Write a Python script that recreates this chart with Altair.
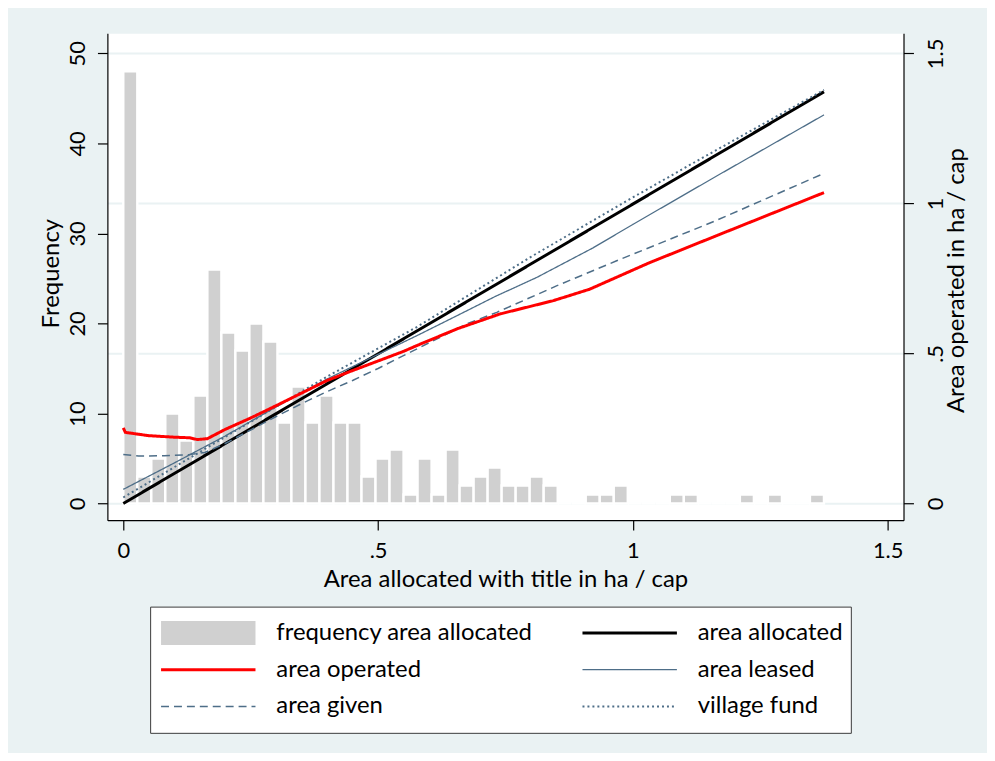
import altair as alt
import pandas as pd

# ---------------- data ----------------
bin_width = 0.0275
counts = [48, 3, 5, 10, 7, 12, 26, 19, 17, 20, 18, 9, 13, 9, 12, 9, 9, 3, 5, 6,
          1, 5, 1, 6, 2, 3, 4, 2, 2, 3, 2, 0, 0, 1, 1, 2, 0, 0, 0, 1,
          1, 0, 0, 0, 1, 0, 1, 0, 0, 1]

# legend order (filled column by column)
series_names = ["frequency area allocated", "area operated", "area given",
                "area allocated", "area leased", "village fund"]

allocated_x = [0.0, 1.375]
allocated_y = [0.0, 1.372]

leased_x = [0.0, 0.1, 0.2, 0.3, 0.4, 0.5, 0.577, 0.655, 0.73, 0.811, 0.922, 1.0,
            1.162, 1.375]
leased_y = [0.047, 0.135, 0.225, 0.322, 0.415, 0.497, 0.56, 0.626, 0.69, 0.753,
            0.852, 0.93, 1.089, 1.295]

given_x = [0.0, 0.03, 0.08, 0.13, 0.16, 0.2, 0.25, 0.3, 0.35, 0.4, 0.45, 0.5, 0.577,
           0.675, 0.733, 0.85, 0.967, 1.162, 1.375]
given_y = [0.163, 0.158, 0.159, 0.163, 0.17, 0.2, 0.245, 0.29, 0.333, 0.373, 0.41,
           0.45, 0.516, 0.599, 0.637, 0.725, 0.808, 0.942, 1.10]

village_x = [0.0, 0.2, 0.4, 0.577, 0.8, 1.0, 1.123, 1.375]
village_y = [0.02, 0.222, 0.423, 0.589, 0.822, 1.02, 1.139, 1.378]

operated_x = [0.0, 0.004, 0.05, 0.1, 0.13, 0.145, 0.165, 0.2, 0.25, 0.3, 0.35, 0.4,
              0.45, 0.5, 0.55, 0.577, 0.655, 0.74, 0.844, 0.915, 1.032, 1.162, 1.375]
operated_y = [0.252, 0.237, 0.226, 0.221, 0.219, 0.213, 0.216, 0.247, 0.285, 0.326,
              0.368, 0.41, 0.443, 0.475, 0.507, 0.527, 0.582, 0.632, 0.676, 0.714,
              0.802, 0.891, 1.036]

x_ticks = [0, 0.5, 1, 1.5]
left_ticks = [0, 10, 20, 30, 40, 50]
right_ticks = [0, 0.5, 1, 1.5]

# ---------------- tables ----------------
bars_df = pd.DataFrame({
    "bin_start": [i * bin_width for i in range(len(counts))],
    "bin_end": [(i + 1) * bin_width for i in range(len(counts))],
    "count": counts,
    "base": [0] * len(counts),
})

rows = []
for name, xs, ys in [("area allocated", allocated_x, allocated_y),
                     ("area leased", leased_x, leased_y),
                     ("area given", given_x, given_y),
                     ("village fund", village_x, village_y),
                     ("area operated", operated_x, operated_y)]:
    for i, (xv, yv) in enumerate(zip(xs, ys)):
        rows.append({"series": name, "x": xv, "y": yv, "idx": i})
lines_df = pd.DataFrame(rows)

# ---------------- styling ----------------
FONT = "Lato"
FS = 24
LFS = 22
BLUEGRAY = "#4e6e88"
series_colors = ["#d0d0d0", "#ff0000", BLUEGRAY, "#000000", BLUEGRAY, BLUEGRAY]
series_dash = [[1, 0], [1, 0], [8, 5], [1, 0], [1, 0], [2, 3]]
series_width = [24, 3, 1.5, 3, 1.3, 2]

label_expr = "datum.value == 0.5 ? '.5' : format(datum.value, '~g')"

x_scale = alt.Scale(domain=[-0.0312, 1.5311], nice=False, zero=False)
x_axis = alt.Axis(values=x_ticks, labelExpr=label_expr, grid=False, tickSize=10,
                  labelPadding=11, title="Area allocated with title in ha / cap",
                  titleX=400.5, titleY=67, titleAlign="center",
                  titleBaseline="alphabetic")

left_axis = alt.Axis(orient="left", values=left_ticks, grid=False, tickSize=10,
                     labelAngle=270, labelAlign="center", labelBaseline="alphabetic",
                     labelPadding=13, title="Frequency", titleAngle=270,
                     titleX=-49, titleY=241.5, titleAlign="center",
                     titleBaseline="alphabetic")

right_axis = alt.Axis(orient="right", values=right_ticks, labelExpr=label_expr,
                      grid=True, gridColor="#EAF2F3", gridWidth=2, tickSize=10,
                      labelAngle=270, labelAlign="center", labelBaseline="top",
                      labelPadding=12.5, title="Area operated in ha / cap",
                      titleAngle=270, titleX=60, titleY=248.5, titleAlign="center",
                      titleBaseline="alphabetic")

legend = alt.Legend(title=None, orient="none", legendX=43, legendY=577, columns=2,
                    symbolType="stroke", symbolSize=9025, symbolOffset=-9,
                    labelOffset=9, clipHeight=37, rowPadding=0, columnPadding=47,
                    padding=8, fillColor="white", strokeColor="#3a3a3a",
                    labelFont=FONT, labelFontSize=FS, labelColor="black",
                    labelLimit=0)

bars = alt.Chart(bars_df).mark_bar(color="#d0d0d0", stroke="white", strokeWidth=2.4).encode(
    x=alt.X("bin_start:Q", scale=x_scale, axis=x_axis),
    x2="bin_end:Q",
    y=alt.Y("count:Q", scale=alt.Scale(domain=[-1.85, 52.25], nice=False, zero=False),
            axis=left_axis),
    y2="base:Q",
)

lines = alt.Chart(lines_df).mark_line().encode(
    x=alt.X("x:Q", scale=x_scale, axis=x_axis),
    y=alt.Y("y:Q", scale=alt.Scale(domain=[-0.0555, 1.5675], nice=False, zero=False),
            axis=right_axis),
    color=alt.Color("series:N", scale=alt.Scale(domain=series_names, range=series_colors),
                    legend=legend),
    strokeDash=alt.StrokeDash("series:N",
                              scale=alt.Scale(domain=series_names, range=series_dash),
                              legend=legend),
    strokeWidth=alt.StrokeWidth("series:O",
                                scale=alt.Scale(type="ordinal", domain=series_names,
                                                range=series_width),
                                legend=legend),
    order="idx:Q",
)

chart = alt.layer(bars, lines).resolve_scale(y="independent").properties(
    width=801, height=490,
    autosize=alt.AutoSizeParams(type="none"),
    padding={"left": 100, "top": 23, "right": 84, "bottom": 232},
    background="#EAF2F3",
).configure_view(fill="white", stroke="transparent").configure_axis(
    labelFont=FONT, titleFont=FONT, labelFontSize=LFS, titleFontSize=FS,
    labelColor="black", titleColor="black", titleFontWeight="normal",
    domainColor="black", tickColor="black", domainWidth=1.2, tickWidth=1.2,
)

chart.save("out.html", embed_options={"renderer": "svg", "actions": False})
